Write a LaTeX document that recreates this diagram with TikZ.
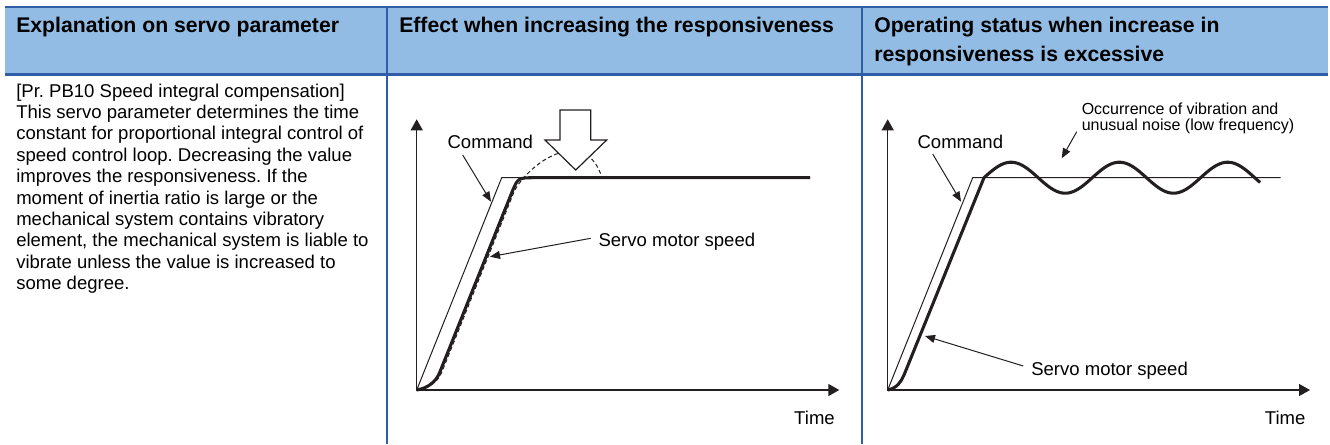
\documentclass[tikz,border=0pt]{standalone}
\usepackage{fontspec}
\setmainfont{Liberation Sans}
\usetikzlibrary{arrows.meta, positioning, calc}
\definecolor{HeadFill}{HTML}{92BCE3}
\definecolor{RuleBlue}{HTML}{2F5DA8}
\definecolor{Ink}{HTML}{231F20}
\frenchspacing

\begin{document}
\begin{tikzpicture}[x=0.75pt, y=-0.75pt]%[scale=1]
    \tikzset{HeadText/.style = {anchor=base west, inner sep=0pt, align=left, font=\fontsize{15.9}{21.75}\selectfont\bfseries}}
    \tikzset{BodyText/.style = {anchor=base west, inner sep=0pt, align=left, font=\fontsize{13.9}{16.05}\selectfont}}
    \tikzset{LabelText/.style = {anchor=base west, inner sep=0pt, font=\fontsize{13.9}{16}\selectfont}}
    \tikzset{NoteText/.style = {anchor=base west, inner sep=0pt, align=left, font=\fontsize{12}{11.6}\selectfont}}
    \tikzset{RuleStyle/.style = {line width=1.9pt, color=RuleBlue}}
    \tikzset{AxisStyle/.style = {line width=1pt, color=Ink, {Triangle[length=8.25pt, width=9pt]}-{Triangle[length=8.25pt, width=9pt]}}}
    \tikzset{LeaderStyle/.style = {line width=0.75pt, color=Ink, -{Triangle[length=7.5pt, width=6pt]}}}
    \tikzset{CommandStyle/.style = {line width=0.75pt, color=Ink}}
    \tikzset{ServoStyle/.style = {line width=2.3pt, color=Ink, line join=round}}
    \useasboundingbox (0,0) rectangle (1330,444);
    \fill[color=HeadFill] (5,7) rectangle (1328,74.5);
    \draw[RuleStyle] (5,7) -- (1328,7);
    \draw[RuleStyle] (5,74.5) -- (1328,74.5);
    \draw[RuleStyle] (387,7) -- (387,444);
    \draw[RuleStyle] (862,7) -- (862,444);
    \node[HeadText] (hexpl) at (16,32) {Explanation on servo parameter};
    \node[HeadText] (heff) at (399,32) {Effect when increasing the responsiveness};
    \node[HeadText] (hstat) at (874,61) {Operating status when increase in\\responsiveness is excessive};
    \node[BodyText] (expl) at (16,289.6) {[Pr. PB10 Speed integral compensation]\\This servo parameter determines the time\\constant for proportional integral control of\\speed control loop. Decreasing the value\\improves the responsiveness. If the\\moment of inertia ratio is large or the\\mechanical system contains vibratory\\element, the mechanical system is liable to\\vibrate unless the value is increased to\\some degree.};
    % effect when increasing
    \coordinate (o2) at (416.7, 390);
    \coordinate (y2) at (416.7, 119.3);
    \coordinate (x2) at (839.3, 390);
    \draw[AxisStyle] (y2) -- (o2) -- (x2);
    \draw[CommandStyle] (o2) -- (501.7, 177.7) -- (810, 177.7);
    \draw[CommandStyle, dash pattern=on 3pt off 2pt] (418.5, 389) .. controls (430, 387) and (438, 382) .. (442, 371.7) -- (514, 192) .. controls (519, 180) and (545, 151) .. (572, 151) .. controls (590, 151) and (598, 165) .. (602, 177.7);
    \draw[ServoStyle] (o2) .. controls (428, 388) and (436, 382) .. (440, 371.7) -- (512, 192) .. controls (518, 177.7) .. (535, 177.7) -- (810, 177.7);
    \draw[line width=0.9pt, draw=Ink, fill=white] (560, 110) -- (590.7, 110) -- (590.7, 140) -- (606.7, 140) -- (575.7, 170) -- (545, 140) -- (560, 140) -- cycle;
    \node[LabelText] (cmd2) at (447.3, 148.4) {Command};
    \coordinate (cmd2tip) at (491, 201.7);
    \draw[LeaderStyle] ($(cmd2.base west)+(15.4, 6.6)$) -- (cmd2tip);
    \node[LabelText] (srv2) at (598.3, 246) {Servo motor speed};
    \coordinate (srv2tip) at (490, 256.7);
    \draw[LeaderStyle] ($(srv2.base west)+(-7.6, -7.7)$) -- (srv2tip);
    \node[LabelText, anchor=base east] (tm2) at (835, 424) {Time};
    % excessive responsiveness
    \coordinate (o3) at (887.7, 390);
    \coordinate (y3) at (887.7, 119.3);
    \coordinate (x3) at (1310, 390);
    \draw[AxisStyle] (y3) -- (o3) -- (x3);
    \draw[CommandStyle] (o3) -- (972.7, 177.7) -- (1280.7, 177.7);
    \draw[ServoStyle] (o3) .. controls (897, 388) and (901, 382) .. (904, 375) -- (984, 177.7) -- plot[domain=0:2.55, samples=120, smooth] ({984+108.3*\x}, {177.7-15.5*sin(360*\x)});
    \node[LabelText] (cmd3) at (917.3, 148.4) {Command};
    \coordinate (cmd3tip) at (961, 201.7);
    \draw[LeaderStyle] ($(cmd3.base west)+(15.4, 5.6)$) -- (cmd3tip);
    \node[LabelText] (srv3) at (1031, 375) {Servo motor speed};
    \coordinate (srv3tip) at (925, 336);
    \draw[LeaderStyle] ($(srv3.base west)+(-7.7, -9)$) -- (srv3tip);
    \node[NoteText] (vib3) at (1081.5, 130) {Occurrence of vibration and\\unusual noise (low frequency)};
    \coordinate (vib3tip) at (1061.7, 158.3);
    \draw[LeaderStyle] ($(vib3.base west)+(-4.8, 1.7)$) -- (vib3tip);
    \node[LabelText, anchor=base east] (tm3) at (1305.7, 424) {Time};
\end{tikzpicture}
\end{document}
